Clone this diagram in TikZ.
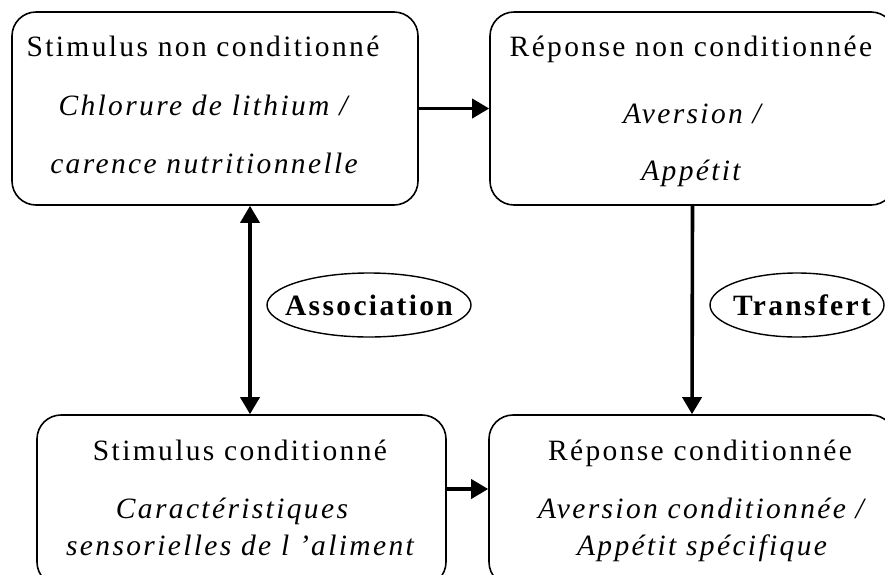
\documentclass[tikz,border=0pt]{standalone}
\usepackage{fontspec}
\setmainfont{Liberation Serif}[LetterSpace=8]
\usetikzlibrary{arrows.meta,shapes.geometric}
\newcommand{\bodyfont}{\fontsize{29.5}{32}\selectfont}
\tikzset{
  box/.style={draw, line width=1.6pt, rounded corners=24pt, inner sep=0pt},
  ell/.style={draw, ellipse, line width=1.4pt, inner sep=0pt},
  txt/.style={anchor=base, inner sep=0pt, font=\bodyfont},
  itx/.style={anchor=base, inner sep=0pt, font=\bodyfont\itshape},
  bld/.style={anchor=base, inner sep=0pt, font=\bodyfont\bfseries},
  arr/.style={line width=3.6pt, -{Triangle[length=17pt,width=19pt]}},
  darr/.style={line width=3.6pt, {Triangle[length=17pt,width=19pt]}-{Triangle[length=17pt,width=19pt]}}
}
\begin{document}
\begin{tikzpicture}[x=1pt,y=-1pt]
\useasboundingbox (0,0) rectangle (885,574);
\clip (0,0) rectangle (885,574);
% boxes
\node[box, minimum width=406pt, minimum height=193pt] (B1) at (215,108.5) {};
\node[box, minimum width=405pt, minimum height=193pt] (B2) at (692.5,108.5) {};
\node[box, minimum width=409pt, minimum height=171pt] (B3) at (241.5,500.5) {};
\node[box, minimum width=406pt, minimum height=171pt] (B4) at (692,500.5) {};
% texts
\node[txt] (t1a) at (203,56) {Stimulus non conditionné};
\node[itx] (t1b) at (203,115) {Chlorure de lithium /};
\node[itx] (t1c) at (204,173) {carence nutritionnelle};
\node[txt] (t2a) at (691,56) {Réponse non conditionnée};
\node[itx] (t2b) at (692,123) {Aversion /};
\node[itx] (t2c) at (691,180) {Appétit};
\node[txt] (t3a) at (240,460) {Stimulus conditionné};
\node[itx] (t3b) at (232,518) {Caractéristiques};
\node[itx] (t3c) at (240,555) {sensorielles de l 'aliment};
\node[txt] (t4a) at (700,460) {Réponse conditionnée};
\node[itx] (t4b) at (701,518) {Aversion conditionnée /};
\node[itx] (t4c) at (702,555) {Appétit spécifique};
% ellipses
\node[ell, minimum width=204pt, minimum height=64pt] (E1) at (369,305) {};
\node[bld] (e1t) at (369,315) {Association};
\node[ell, minimum width=174pt, minimum height=64pt] (E2) at (797,305) {};
\node[bld] (e2t) at (802,315) {Transfert};
% connectors
\coordinate (lx) at (250,0);
\coordinate (by) at (0,489);
\draw[arr] (B1.east) -- (B2.west);
\draw[darr] (B1.south -| lx) -- (B3.north -| lx);
\draw[arr] (B2.south) -- (B4.north);
\draw[arr] (B3.east |- by) -- (B4.west |- by);
\end{tikzpicture}
\end{document}
